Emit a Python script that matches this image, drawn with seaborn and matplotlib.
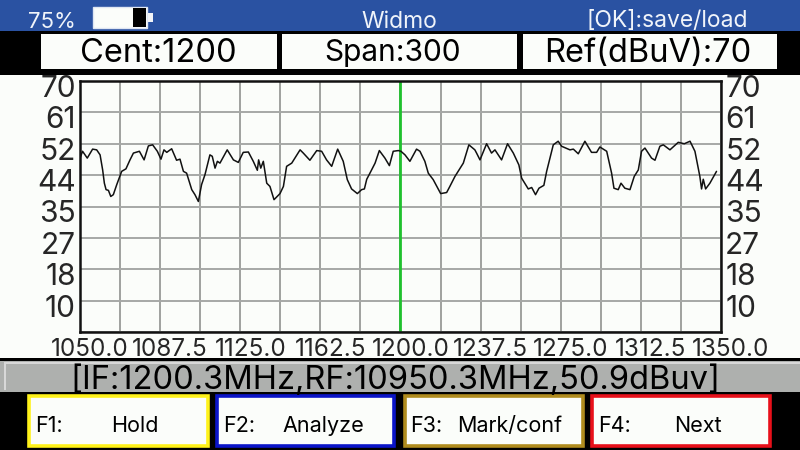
import matplotlib
matplotlib.use("Agg")
import matplotlib.pyplot as plt
from matplotlib.patches import Rectangle
from matplotlib.transforms import ScaledTranslation
import seaborn as sns
import pandas as pd
import numpy as np

freq_mhz = [1050.0,1051.2,1053.4,1055.9,1057.8,1059.4,1060.6,1061.4,1062.2,1063.3,1064.4,1065.6,1067.2,1069.5,1071.5,1073.4,1075.0,1077.8,1080.0,1082.0,1084.0,1086.2,1087.9,1089.3,1090.6,1092.9,1095.2,1096.8,1098.4,1099.9,1102.3,1103.8,1105.4,1106.9,1108.5,1110.8,1111.9,1113.2,1114.3,1115.5,1118.9,1121.8,1124.1,1126.4,1128.8,1131.1,1133.0,1133.6,1134.6,1135.8,1137.4,1138.9,1140.8,1143.6,1145.2,1146.7,1149.1,1153.0,1154.5,1157.6,1160.8,1163.1,1165.4,1167.8,1168.6,1170.6,1173.2,1175.1,1177.1,1179.8,1181.8,1183.1,1184.2,1185.7,1188.1,1190.1,1192.7,1194.8,1196.6,1199.0,
            1200.2,1202.1,1204.4,1207.5,1209.1,1211.4,1213.0,1215.3,1218.8,1221.6,1223.1,1225.5,1229.4,1232.0,1234.8,1235.6,1237.2,1240.3,1242.6,1244.2,1247.3,1250.1,1252.8,1255.4,1256.7,1259.8,1261.4,1263.2,1264.8,1267.1,1268.4,1271.5,1273.8,1275.4,1279.3,1280.9,1283.2,1286.3,1289.4,1291.8,1293.3,1296.5,1298.8,1299.9,1301.9,1303.2,1305.0,1307.4,1309.4,1311.3,1312.8,1314.4,1317.5,1319.1,1321.4,1323.0,1326.1,1330.0,1332.8,1335.5,1337.8,1340.1,1340.9,1341.7,1342.8,1344.8,1347.9]
level_dbuv = [48.5,50.4,48.5,51.0,50.8,49.4,45.2,41.5,39.7,39.5,37.8,38.3,41.1,44.8,45.5,48.0,49.9,50.4,48.0,51.9,52.2,50.4,48.2,50.8,50.1,51.1,47.9,48.2,44.8,44.3,39.7,38.3,36.4,41.1,43.9,49.4,49.0,45.7,47.6,47.1,50.8,48.0,47.3,50.1,50.2,47.6,45.1,48.0,45.7,47.6,41.5,40.6,36.9,38.6,40.6,46.2,47.1,50.8,49.9,47.9,50.6,50.4,48.0,46.2,47.6,51.0,47.6,42.5,39.9,38.6,39.7,39.9,42.6,44.3,47.1,50.6,48.5,46.4,50.4,50.6,
              50.4,49.4,47.6,51.0,50.4,47.6,44.3,42.5,38.6,38.9,40.6,43.4,47.1,52.2,50.8,49.9,48.0,52.5,49.9,50.8,48.0,52.5,49.9,46.6,42.9,39.9,40.3,38.3,40.1,40.9,44.8,52.2,53.2,51.8,50.8,51.0,49.7,53.2,50.1,50.1,51.6,50.4,44.3,40.1,39.7,41.5,40.1,39.7,43.4,45.2,50.4,51.3,48.5,47.9,51.8,52.2,50.8,52.9,52.5,53.2,50.4,43.4,39.9,42.6,39.9,41.5,44.8]
x_ticks = [1050.0,1087.5,1125.0,1162.5,1200.0,1237.5,1275.0,1312.5,1350.0]
x_minor = [1068.75,1106.25,1143.75,1181.25,1218.75,1256.25,1293.75,1331.25]
y_ticks = [70,61.25,52.5,43.75,35,26.25,17.5,8.75,0]
y_labels = ["70","61","52","44","35","27","18","10",""]
marker_freq = 1200.0
header_labels = ["Cent:1200","Span:300","Ref(dBuV):70"]
soft_keys = ["F1:","F2:","F3:","F4:"]
soft_names = ["Hold","Analyze","Mark/conf","Next"]

sns.set_theme(style="white")
plt.rcParams['font.family'] = ['Inter', 'Liberation Sans', 'DejaVu Sans']
PAPER = "#fbfdfa"
W, H = 800, 450
fig = plt.figure(figsize=(8, 4.5), dpi=100, facecolor=PAPER)

def box(x0, y0, x1, y1, fc, ec="none", lw=0, z=0):
    fig.add_artist(Rectangle((x0/W, 1-y1/H), (x1-x0)/W, (y1-y0)/H, transform=fig.transFigure,
                             facecolor=fc, edgecolor=ec, linewidth=lw, zorder=z))
def label(x, y, s, size, color="black", ha="center"):
    fig.text(x/W, 1-y/H, s, fontsize=size, color=color, ha=ha, va="center_baseline", zorder=5)

# chrome
box(0, 0, 800, 31, "#2a52a2")
box(0, 31, 800, 75, "black")
box(41, 34, 277, 69, PAPER, z=1)
box(282, 34, 517, 69, PAPER, z=1)
box(523, 34, 777, 69, PAPER, z=1)
box(0, 358, 800, 361, "black")
box(0, 361, 800, 392, "#aeb0ae")
box(4, 362, 800, 364, "#d8d8d8", z=1)
box(4, 362, 6, 390, "#d8d8d8", z=1)
box(0, 392, 800, 450, "black")
for (x0, x1, col) in [(29, 208, "#fff21a"), (217, 394, "#0a14c8"), (405, 583, "#b08c1e"), (592, 770, "#e8101a")]:
    box(x0, 396, x1, 446, PAPER, ec=col, lw=2.6, z=1)
# battery
box(93, 7, 147, 28, PAPER, ec="#dfe6f2", lw=1, z=1)
box(133, 8, 146, 27, "black", z=2)
box(148, 13, 153, 22, "#f2f4f8", z=1)

label(52, 20, "75%", 16, "#f0f4fa")
label(399, 19, "Widmo", 16.5, "#f0f4fa")
label(667, 19, "[OK]:save/load", 16.5, "#f0f4fa")
for cx, s, fs in zip([158, 392, 648], header_labels, [23.5, 21.5, 23.5]):
    label(cx, 50, s, fs)
label(395, 377, "[IF:1200.3MHz,RF:10950.3MHz,50.9dBuv]", 23.5)
for kx, nx, k, n in zip([35, 223, 410, 598], [135, 323, 510, 698], soft_keys, soft_names):
    label(kx, 424, k, 15.5, ha="left")
    label(nx, 424, n, 15.5)

# plot
ax = fig.add_axes([80/W, 1-332/H, 641/W, 251/H], facecolor=PAPER)
ax.patch.set_alpha(0)
df = pd.DataFrame({"freq": freq_mhz, "level": level_dbuv})
ax.axvline(marker_freq, color="#1fc12d", lw=2.0, zorder=2.5)
sns.lineplot(data=df, x="freq", y="level", ax=ax, color="#111111", lw=1.1, zorder=3, errorbar=None, sort=False)
ax.set_xlim(1050, 1350)
ax.set_ylim(0, 70)
ax.set_xlabel("")
ax.set_ylabel("")
ax.set_xticks(x_ticks)
ax.set_xticks(x_minor, minor=True)
ax.set_xticklabels([f"{v:.1f}" for v in x_ticks])
ax.set_yticks(y_ticks)
ax.set_yticklabels(y_labels)
ax.grid(True, axis="x", which="both", color="#8f918f", lw=1.2, zorder=1)
ax.grid(True, axis="y", which="major", color="#a6a8a6", lw=1.4, zorder=1)
ax.set_axisbelow(True)
ax.tick_params(axis="x", which="both", length=0, labelsize=17.5, pad=4)
ax.tick_params(axis="y", length=0, labelsize=21.5, pad=3, labelleft=True, labelright=True)
shift_x = ScaledTranslation(10/100, 0, fig.dpi_scale_trans)
shift_y = ScaledTranslation(0, -5/100, fig.dpi_scale_trans)
for t in ax.xaxis.get_major_ticks():
    t.label1.set_transform(t.label1.get_transform() + shift_x)
for t in ax.yaxis.get_major_ticks():
    t.label1.set_transform(t.label1.get_transform() + shift_y)
    t.label2.set_transform(t.label2.get_transform() + shift_y)
for s in ax.spines.values():
    s.set_visible(True)
    s.set_color("#111111")
    s.set_linewidth(1.8)

fig.savefig("out.png", dpi=100, facecolor=fig.get_facecolor())
